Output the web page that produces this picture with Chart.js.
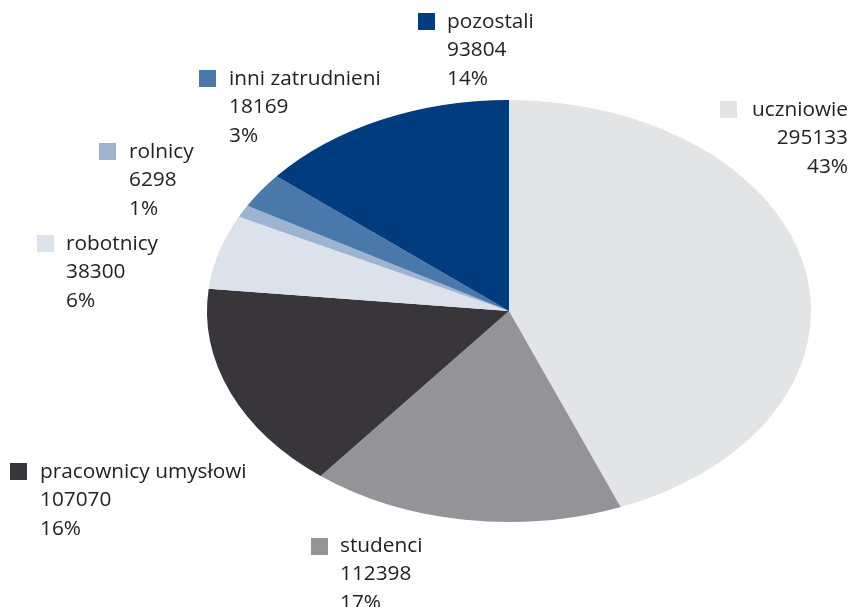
<!DOCTYPE html>
<html>
<head>
<meta charset="utf-8">
<script src="https://cdn.jsdelivr.net/npm/chart.js@4/dist/chart.umd.min.js"></script>
<style>
  html, body { margin: 0; padding: 0; background: #fff; }
  #wrap { width: 851px; height: 607px; position: relative; }
</style>
</head>
<body>
<div id="wrap"><canvas id="chart"></canvas></div>
<script>
// data, clockwise from 12 o'clock
const categories = ['uczniowie', 'studenci', 'pracownicy umysłowi', 'robotnicy', 'rolnicy', 'inni zatrudnieni', 'pozostali'];
const counts = [295133, 112398, 107070, 38300, 6298, 18169, 93804];
const percentLabels = ['43%', '17%', '16%', '6%', '1%', '3%', '14%'];
const colors = ['#e3e4e6', '#949498', '#38363a', '#dce2ec', '#9db4d0', '#4b78aa', '#003c7e'];

// where each label block sits: square left/top, text x, first row y, alignment
const labelPos = [
  {sx: 720, sy: 101, tx: 848, ty: 110, align: 'right'},
  {sx: 311, sy: 538, tx: 340, ty: 546, align: 'left'},
  {sx: 10,  sy: 463, tx: 40,  ty: 472, align: 'left'},
  {sx: 37,  sy: 235, tx: 66,  ty: 244, align: 'left'},
  {sx: 99,  sy: 143, tx: 129, ty: 152, align: 'left'},
  {sx: 199, sy: 70,  tx: 229, ty: 79,  align: 'left'},
  {sx: 418, sy: 13,  tx: 447, ty: 22,  align: 'left'}
];

const centerY = 311;
const squash = 211 / 302;   // the pie is an ellipse in the original

const ellipse = {
  id: 'ellipse',
  beforeDatasetsDraw(chart) {
    const arc = chart.getDatasetMeta(0).data[0];
    const ctx = chart.ctx;
    ctx.save();
    ctx.translate(arc.x, centerY);
    ctx.scale(1, squash);
    ctx.translate(-arc.x, -arc.y);
  },
  afterDatasetsDraw(chart) {
    chart.ctx.restore();
  }
};

const labels = {
  id: 'labels',
  afterDraw(chart) {
    const ctx = chart.ctx;
    ctx.save();
    ctx.font = '20.8px "Open Sans"';
    ctx.textBaseline = 'middle';
    categories.forEach((name, i) => {
      const p = labelPos[i];
      ctx.fillStyle = colors[i];
      ctx.fillRect(p.sx, p.sy, 17, 17);
      ctx.fillStyle = '#222';
      ctx.textAlign = p.align;
      ctx.fillText(name, p.tx, p.ty);
      ctx.fillText(String(counts[i]), p.tx, p.ty + 28.5);
      ctx.fillText(percentLabels[i], p.tx, p.ty + 57);
    });
    ctx.restore();
  }
};

new Chart(document.getElementById('chart'), {
  type: 'pie',
  data: {
    labels: categories,
    datasets: [{
      data: counts,
      backgroundColor: colors,
      borderWidth: 0
    }]
  },
  options: {
    responsive: true,
    maintainAspectRatio: false,
    animation: false,
    layout: { padding: { left: 207, right: 40, top: 0, bottom: 3 } },
    plugins: {
      legend: { display: false },
      tooltip: { enabled: false }
    }
  },
  plugins: [ellipse, labels]
});
</script>
</body>
</html>
